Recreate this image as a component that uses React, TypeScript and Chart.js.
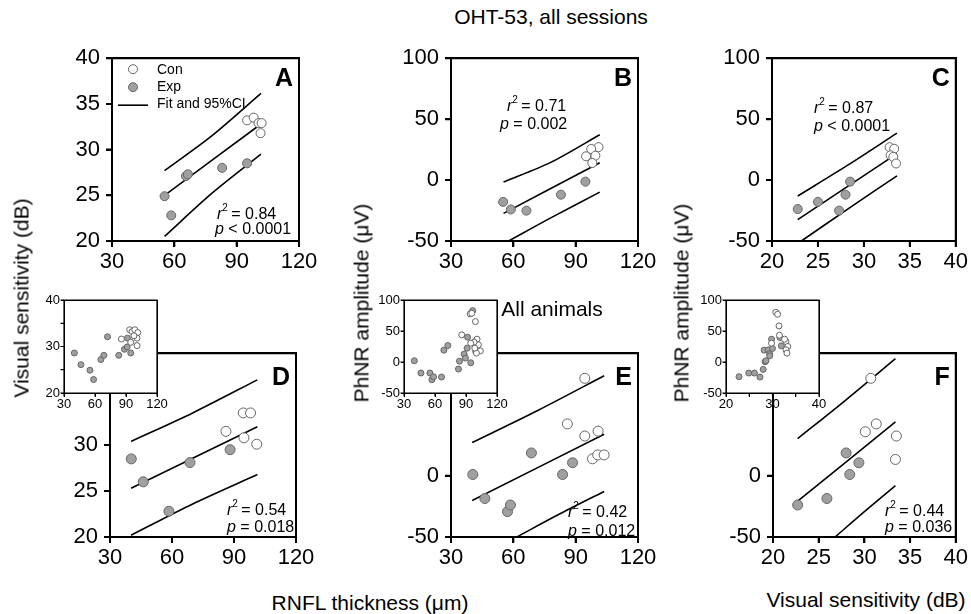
import React, { useEffect, useRef, useState } from 'react';
import { Chart, registerables } from 'chart.js';
Chart.register(...registerables);

const FONT = '"Liberation Sans", Arial, Helvetica, sans-serif';
const CON_FILL = '#ffffff';
const CON_EDGE = '#666666';
const EXP_FILL = '#a0a0a0';
const EXP_EDGE = '#666666';

// ---------- Panel A : RNFL thickness vs visual sensitivity ----------
const aConX = [95, 98.2, 100.5, 102, 101.5];
const aConY = [33.2, 33.5, 32.9, 32.9, 31.8];
const aExpX = [55.3, 58.5, 65.6, 66.5, 83, 95];
const aExpY = [24.9, 22.8, 27.1, 27.3, 28.0, 28.5];
const aFitX = [55.3, 101.7];
const aFitY = [25.0, 32.8];
const aCiX = [55.3, 78, 101.7];
const aCiUpY = [27.7, 31.5, 36.15];
const aCiLoY = [20.5, 25.2, 29.5];

// ---------- Panel B : RNFL thickness vs PhNR ----------
const bConX = [101, 97.5, 95, 99.5, 98];
const bConY = [27, 25.5, 19.5, 20, 14];
const bExpX = [55.1, 58.8, 66.3, 82.9, 94.7];
const bExpY = [-17.9, -24.1, -25.1, -12, -1.3];
const bFitX = [55.3, 101.6];
const bFitY = [-27.3, 14.2];
const bCiUpX = [55.3, 78, 101.6];
const bCiUpY = [-1.6, 14.5, 37.2];
const bCiLoX = [57.7, 78, 101.6];
const bCiLoY = [-50, -31, -9.9];

// ---------- Panel C : visual sensitivity vs PhNR ----------
const cConX = [32.8, 33.3, 32.9, 33.2, 33.5];
const cConY = [27, 25.7, 20.3, 19, 13.6];
const cExpX = [22.8, 25, 27.3, 28, 28.5];
const cExpY = [-23.8, -17.9, -25.1, -12, -1.3];
const cFitX = [22.8, 33.6];
const cFitY = [-32.4, 21.7];
const cCiUpX = [22.8, 28.2, 33.6];
const cCiUpY = [-13.1, 12, 38.5];
const cCiLoX = [23.2, 28.4, 33.6];
const cCiLoY = [-50, -23, 3.5];

// ---------- Panel D ----------
const dConX = [94.5, 98, 86.1, 94.8, 101];
const dConY = [33.5, 33.5, 31.5, 30.8, 30.1];
const dExpX = [40.3, 46.1, 58.5, 68.7, 88.1];
const dExpY = [28.5, 26, 22.8, 28.1, 29.5];
const dFitX = [40.2, 101.3];
const dFitY = [25.3, 32];
const dCiX = [40.2, 70, 101.3];
const dCiUpY = [30.4, 33.5, 37.1];
const dCiLoY = [20.2, 23.6, 26.8];

// ---------- Panel E ----------
const eConX = [94.4, 86, 94.4, 100.8, 98.1, 100.6, 103.7];
const eConY = [79.5, 42.3, 32.4, 36.4, 13.8, 17, 17];
const eExpX = [40.5, 46.3, 57.2, 58.6, 68.7, 83.7, 88.5];
const eExpY = [1, -18.6, -29.3, -23.9, 18.6, 1, 10.6];
const eFitX = [40.2, 103.7];
const eFitY = [-20.2, 33.8];
const eCiUpX = [40.2, 72, 103.7];
const eCiUpY = [27.1, 53.5, 81.6];
const eCiLoX = [61.6, 82, 103.7];
const eCiLoY = [-50, -31.5, -12.8];

// ---------- Panel F ----------
const fConX = [30.7, 31.3, 30.1, 33.5, 33.4];
const fConY = [79.5, 42.3, 35.9, 32.4, 13.3];
const fExpX = [22.7, 25.9, 28.0, 28.4, 29.4];
const fExpY = [-23.9, -18.6, 18.6, 1, 10.6];
const fFitX = [22.7, 33.4];
const fFitY = [-20.7, 43.9];
const fCiUpX = [22.7, 28, 33.4];
const fCiUpY = [30.3, 62, 95.5];
const fCiLoX = [26.8, 30, 33.4];
const fCiLoY = [-50, -29.3, -8];

// ---------- Insets (all animals) ----------
const diExpX = [40, 46.4, 55.1, 58.6, 65.7, 68.6, 72.1, 83, 88.5, 91.4, 91.1, 94.6];
const diExpY = [28.6, 26.1, 24.9, 22.9, 27.2, 28.1, 32.1, 28.1, 29.4, 31.8, 29.9, 28.6];
const diConX = [85.6, 93.6, 95.9, 98.5, 101.4, 100.7, 94.6, 100.7, 97.7];
const diConY = [31.6, 33.6, 33.2, 33.6, 33.0, 31.8, 30.9, 30.2, 32.3];

const eiExpX = [40, 46.4, 55.1, 57, 58.6, 66.3, 68.6, 72.4, 82.7, 83.7, 88.2, 89.5, 91.5, 91.1, 94.6, 99.4, 96.5];
const eiExpY = [2, -17.8, -17.8, -28.6, -23.8, -24.3, 19.1, 26.6, -11.4, 1.4, 12.7, 6.3, 40, 22.3, -1.2, 17, 82.9];
const eiConX = [85.9, 94, 95.6, 99.1, 100.7, 102, 103.9, 100.1, 97.8, 94.6, 98.5];
const eiConY = [43.8, 77.5, 78.6, 65.2, 36.8, 27.7, 18, 14.3, 32, 30.4, 22.3];

const fiExpX = [22.8, 24.9, 26.1, 27.3, 28, 28.4, 28.6, 28.2, 29.1, 29.4, 30, 29.8, 31.6, 31.9, 29.4];
const fiExpY = [-23.7, -17.8, -17.8, -24.3, -11.9, 0.4, 2, 19.1, 19.6, 13.2, 21.8, 36.8, 39.5, 26.1, 10];
const fiConX = [30.7, 31.1, 31.4, 31.5, 32.9, 33.3, 32.9, 33.1, 32.6, 29.8];
const fiConY = [80.2, 77, 58.2, 43.2, 33, 25, 19.7, 14.3, 36.8, 30.4];

// ---------- ticks ----------
const rnflTicks = [30, 60, 90, 120];
const vsTicks = [20, 25, 30, 35, 40];
const vsLabelTicks = [20, 30, 40];
const phnrTicks = [-50, 0, 50, 100];
const phnrLowTicks = [-50, 0];
const vsLowTicks = [20, 25, 30];

type XY = [number[], number[]];
type Stat = { rx: number; px: number; ry: number; py: number; r: string; pOp: string; p: string };
type Margins = { l: number; t: number; r: number; b: number };
type Spec = {
  rect: [number, number, number, number];
  inset: boolean;
  m: Margins;
  xr: [number, number];
  yr: [number, number];
  xTicks: number[];
  xLabels: number[];
  yTicks: number[];
  yLabels: number[];
  con: XY;
  exp: XY;
  lines: XY[];
  pr: number;
  letter?: string;
  letterDy?: number;
  stat?: Stat;
  legend?: boolean;
};

const MAIN_M: Margins = { l: 72, t: 16, r: 26, b: 36 };
const EDGE_M: Margins = { l: 72, t: 16, r: 10, b: 36 };
const INSET_M: Margins = { l: 36, t: 10, r: 14, b: 20 };

const specs: Spec[] = [
  {
    rect: [112, 54, 187, 187], inset: false, m: MAIN_M, xr: [30, 120], yr: [20, 40],
    xTicks: rnflTicks, xLabels: rnflTicks, yTicks: vsTicks, yLabels: vsTicks,
    con: [aConX, aConY], exp: [aExpX, aExpY],
    lines: [[aFitX, aFitY], [aCiX, aCiUpY], [aCiX, aCiLoY]], pr: 4.5,
    letter: 'A', letterDy: 21, legend: true,
    stat: { rx: 105, px: 103, ry: 156, py: 171, r: ' = 0.84', pOp: ' < ', p: '0.0001' },
  },
  {
    rect: [451, 54, 187, 187], inset: false, m: MAIN_M, xr: [30, 120], yr: [-50, 100],
    xTicks: rnflTicks, xLabels: rnflTicks, yTicks: phnrTicks, yLabels: phnrTicks,
    con: [bConX, bConY], exp: [bExpX, bExpY],
    lines: [[bFitX, bFitY], [bCiUpX, bCiUpY], [bCiLoX, bCiLoY]], pr: 4.5,
    letter: 'B', letterDy: 21,
    stat: { rx: 56, px: 49, ry: 48, py: 66, r: ' = 0.71', pOp: ' = ', p: '0.002' },
  },
  {
    rect: [772, 54, 189, 187], inset: false, m: EDGE_M, xr: [20, 40], yr: [-50, 100],
    xTicks: vsTicks, xLabels: vsTicks, yTicks: phnrTicks, yLabels: phnrTicks,
    con: [cConX, cConY], exp: [cExpX, cExpY],
    lines: [[cFitX, cFitY], [cCiUpX, cCiUpY], [cCiLoX, cCiLoY]], pr: 4.5,
    letter: 'C', letterDy: 21,
    stat: { rx: 42, px: 42, ry: 50, py: 68, r: ' = 0.87', pOp: ' < ', p: '0.0001' },
  },
  {
    rect: [110, 349, 186, 188], inset: false, m: MAIN_M, xr: [30, 120], yr: [20, 40],
    xTicks: rnflTicks, xLabels: rnflTicks, yTicks: vsLowTicks, yLabels: vsLowTicks,
    con: [dConX, dConY], exp: [dExpX, dExpY],
    lines: [[dFitX, dFitY], [dCiX, dCiUpY], [dCiX, dCiLoY]], pr: 5,
    letter: 'D', letterDy: 25,
    stat: { rx: 117, px: 117, ry: 157, py: 174, r: ' = 0.54', pOp: ' = ', p: '0.018' },
  },
  {
    rect: [451, 349, 187, 188], inset: false, m: MAIN_M, xr: [30, 120], yr: [-50, 100],
    xTicks: rnflTicks, xLabels: rnflTicks, yTicks: phnrLowTicks, yLabels: phnrLowTicks,
    con: [eConX, eConY], exp: [eExpX, eExpY],
    lines: [[eFitX, eFitY], [eCiUpX, eCiUpY], [eCiLoX, eCiLoY]], pr: 5,
    letter: 'E', letterDy: 25,
    stat: { rx: 117, px: 117, ry: 159, py: 178, r: ' = 0.42', pOp: ' = ', p: '0.012' },
  },
  {
    rect: [773, 349, 188, 188], inset: false, m: EDGE_M, xr: [20, 40], yr: [-50, 100],
    xTicks: vsTicks, xLabels: vsTicks, yTicks: phnrLowTicks, yLabels: phnrLowTicks,
    con: [fConX, fConY], exp: [fExpX, fExpY],
    lines: [[fFitX, fFitY], [fCiUpX, fCiUpY], [fCiLoX, fCiLoY]], pr: 5,
    letter: 'F', letterDy: 25,
    stat: { rx: 112, px: 112, ry: 158, py: 174, r: ' = 0.44', pOp: ' = ', p: '0.036' },
  },
  {
    rect: [64, 300, 93, 93], inset: true, m: INSET_M, xr: [30, 120], yr: [20, 40],
    xTicks: rnflTicks, xLabels: rnflTicks, yTicks: vsTicks, yLabels: vsLabelTicks,
    con: [diConX, diConY], exp: [diExpX, diExpY], lines: [], pr: 3,
  },
  {
    rect: [404, 300, 93, 93], inset: true, m: INSET_M, xr: [30, 120], yr: [-50, 100],
    xTicks: rnflTicks, xLabels: rnflTicks, yTicks: phnrTicks, yLabels: phnrTicks,
    con: [eiConX, eiConY], exp: [eiExpX, eiExpY], lines: [], pr: 3,
  },
  {
    rect: [726, 300, 93, 93], inset: true, m: INSET_M, xr: [20, 40], yr: [-50, 100],
    xTicks: vsTicks, xLabels: vsLabelTicks, yTicks: phnrTicks, yLabels: phnrTicks,
    con: [fiConX, fiConY], exp: [fiExpX, fiExpY], lines: [], pr: 3,
  },
];

const pts = (xy: XY) => xy[0].map((x, i) => ({ x, y: xy[1][i] }));

type Geo = {
  L: number; T: number; R: number; B: number; lw: number; tl: number;
  xs: number[]; ys: number[];
};

function computeGeo(chart: any, spec: Spec): Geo {
  const a = chart.chartArea;
  const lw = spec.inset ? 1 : 2;
  const tl = spec.inset ? 3 : 5;
  return {
    L: Math.round(a.left - lw / 2),
    T: Math.round(a.top - lw / 2),
    R: Math.round(a.right - lw / 2),
    B: Math.round(a.bottom - lw / 2),
    lw,
    tl,
    xs: spec.xTicks.map((v) => Math.round(chart.scales.x.getPixelForValue(v) - lw / 2)),
    ys: spec.yTicks.map((v) => Math.round(chart.scales.y.getPixelForValue(v) - lw / 2)),
  };
}

function drawStat(ctx: CanvasRenderingContext2D, x: number, y: number, sym: string, sup: string, rest: string) {
  ctx.textBaseline = 'middle';
  ctx.textAlign = 'left';
  ctx.fillStyle = '#000';
  ctx.font = `italic 16px ${FONT}`;
  ctx.fillText(sym, x, y);
  let cx = x + ctx.measureText(sym).width;
  if (sup) {
    ctx.font = `10px ${FONT}`;
    ctx.fillText(sup, cx, y - 6);
    cx += ctx.measureText(sup).width - 1;
  }
  ctx.font = `16px ${FONT}`;
  ctx.fillText(rest, cx, y);
}

function buildConfig(spec: Spec): any {
  const m = spec.m;
  const [, , w, h] = spec.rect;
  const tickFont = { family: FONT, size: spec.inset ? 13 : 22 };
  const tickLen = spec.inset ? 3 : 5;
  const frameW = spec.inset ? 1.2 : 2;
  const [x0, x1] = spec.xr;
  const [y0, y1] = spec.yr;
  const datasets: any[] = [];

  // axis box and outward tick marks as line datasets on the chart's own scales
  datasets.push({
    type: 'line',
    data: [{ x: x0, y: y0 }, { x: x1, y: y0 }, { x: x1, y: y1 }, { x: x0, y: y1 }, { x: x0, y: y0 }],
    borderColor: '#000', borderWidth: frameW, pointRadius: 0, tension: 0, fill: false,
    clip: false, order: 5, borderJoinStyle: 'miter',
  });
  const dy = ((tickLen + frameW / 2) * (y1 - y0)) / h;
  const dx = ((tickLen + frameW / 2) * (x1 - x0)) / w;
  const tickPts: any[] = [];
  spec.xTicks.forEach((v) => {
    tickPts.push({ x: v, y: y0 }, { x: v, y: y0 - dy }, { x: v, y: NaN });
  });
  const yTickPts: any[] = [];
  spec.yTicks.forEach((v) => {
    yTickPts.push({ x: x0, y: v }, { x: x0 - dx, y: v }, { x: NaN, y: v });
  });
  datasets.push({
    type: 'line', data: tickPts, borderColor: '#000', borderWidth: frameW, pointRadius: 0,
    tension: 0, fill: false, clip: false, spanGaps: false, order: 5,
  });
  datasets.push({
    type: 'line', data: yTickPts, borderColor: '#000', borderWidth: frameW, pointRadius: 0,
    tension: 0, fill: false, clip: false, spanGaps: false, order: 5,
  });

  spec.lines.forEach((l) => {
    datasets.push({
      type: 'line', data: pts(l), borderColor: '#000', borderWidth: 1.6,
      pointRadius: 0, showLine: true, tension: 0.3, fill: false, order: 2,
    });
  });
  datasets.push({
    type: 'scatter', data: pts(spec.exp), pointRadius: spec.pr, pointBackgroundColor: EXP_FILL,
    pointBorderColor: EXP_EDGE, pointBorderWidth: 1, order: 1,
  });
  datasets.push({
    type: 'scatter', data: pts(spec.con), pointRadius: spec.pr, pointBackgroundColor: CON_FILL,
    pointBorderColor: CON_EDGE, pointBorderWidth: 1, order: 0,
  });

  const framePlugin = {
    id: 'panelFrame',
    beforeDatasetsDraw(chart: any) {
      if (!spec.inset) return;
      const a = chart.chartArea;
      const ctx = chart.ctx;
      ctx.save();
      ctx.fillStyle = '#fff';
      ctx.fillRect(a.left, a.top, a.right - a.left, a.bottom - a.top);
      ctx.restore();
    },
    afterDraw(chart: any) {
      const a = chart.chartArea;
      const ctx: CanvasRenderingContext2D = chart.ctx;
      const g = computeGeo(chart, spec);
      ctx.save();
      ctx.fillStyle = '#000';
      ctx.fillRect(g.L, g.T, g.R - g.L + g.lw, g.lw);
      ctx.fillRect(g.L, g.B, g.R - g.L + g.lw, g.lw);
      ctx.fillRect(g.L, g.T, g.lw, g.B - g.T + g.lw);
      ctx.fillRect(g.R, g.T, g.lw, g.B - g.T + g.lw);
      g.xs.forEach((px) => ctx.fillRect(px, g.B + g.lw, g.lw, g.tl));
      g.ys.forEach((py) => ctx.fillRect(g.L - g.tl, py, g.tl, g.lw));
      if (spec.letter) {
        ctx.font = `bold 25px ${FONT}`;
        ctx.fillStyle = '#000';
        ctx.textAlign = 'right';
        ctx.textBaseline = 'middle';
        ctx.fillText(spec.letter, a.right - 6, a.top + (spec.letterDy || 21));
      }
      if (spec.stat) {
        const s = spec.stat;
        drawStat(ctx, a.left + s.rx, a.top + s.ry, 'r', '2', s.r);
        drawStat(ctx, a.left + s.px, a.top + s.py, 'p', '', s.pOp + s.p);
      }
      if (spec.legend) {
        ctx.lineWidth = 1;
        ctx.strokeStyle = CON_EDGE;
        ctx.fillStyle = CON_FILL;
        ctx.beginPath();
        ctx.arc(a.left + 21, a.top + 11, 4.5, 0, Math.PI * 2);
        ctx.fill();
        ctx.stroke();
        ctx.fillStyle = EXP_FILL;
        ctx.strokeStyle = EXP_EDGE;
        ctx.beginPath();
        ctx.arc(a.left + 21, a.top + 29, 4.5, 0, Math.PI * 2);
        ctx.fill();
        ctx.stroke();
        ctx.fillStyle = '#000';
        ctx.fillRect(a.left + 6, a.top + 46.2, 30, 1.6);
        ctx.font = `14px ${FONT}`;
        ctx.textAlign = 'left';
        ctx.textBaseline = 'middle';
        ctx.fillText('Con', a.left + 45, a.top + 12);
        ctx.fillText('Exp', a.left + 45, a.top + 29);
        ctx.fillText('Fit and 95%CI', a.left + 45, a.top + 46);
      }
      ctx.restore();
    },
  };

  const axisCommon = (ticks: number[], labels: number[], isX: boolean) => ({
    type: 'linear',
    min: isX ? x0 : y0,
    max: isX ? x1 : y1,
    afterBuildTicks: (s: any) => { s.ticks = ticks.map((v) => ({ value: v })); },
    afterFit: (s: any) => { if (isX) s.height = m.b; else s.width = m.l; },
    ticks: {
      font: tickFont, color: '#000', maxRotation: 0, autoSkip: false,
      padding: spec.inset ? 1 : (isX ? 3 : 7),
      callback: (v: number) => (labels.indexOf(v) >= 0 ? String(v) : ''),
    },
    grid: { drawOnChartArea: false, drawTicks: true, tickLength: tickLen, color: 'rgba(0,0,0,0)' },
    border: { display: false },
  });

  return {
    type: 'scatter',
    data: { datasets },
    options: {
      animation: false, responsive: false, maintainAspectRatio: false, devicePixelRatio: 1,
      layout: { padding: { top: m.t, right: m.r, left: 0, bottom: 0 } },
      plugins: { legend: { display: false }, tooltip: { enabled: false }, title: { display: false } },
      scales: {
        x: axisCommon(spec.xTicks, spec.xLabels, true),
        y: axisCommon(spec.yTicks, spec.yLabels, false),
      },
    },
    plugins: [framePlugin],
  };
}

function Panel({ spec }: { spec: Spec }) {
  const ref = useRef<HTMLCanvasElement>(null);
  const [geo, setGeo] = useState<Geo | null>(null);
  const m = spec.m;
  const [x, y, w, h] = spec.rect;
  const cw = w + m.l + m.r;
  const ch = h + m.t + m.b;
  const ox = x - m.l;
  const oy = y - m.t;
  useEffect(() => {
    const chart = new Chart(ref.current as HTMLCanvasElement, buildConfig(spec));
    setGeo(computeGeo(chart, spec));
    return () => chart.destroy();
  }, []);
  const bar = (k: string, l: number, t: number, bw: number, bh: number) => (
    <div key={k} style={{ position: 'absolute', left: ox + l, top: oy + t, width: bw, height: bh, background: '#000' }} />
  );
  return (
    <>
      <canvas
        ref={ref}
        width={cw}
        height={ch}
        style={{ position: 'absolute', left: ox, top: oy, width: cw, height: ch }}
      />
      {geo && (
        <>
          {bar('t', geo.L, geo.T, geo.R - geo.L + geo.lw, geo.lw)}
          {bar('b', geo.L, geo.B, geo.R - geo.L + geo.lw, geo.lw)}
          {bar('l', geo.L, geo.T, geo.lw, geo.B - geo.T + geo.lw)}
          {bar('r', geo.R, geo.T, geo.lw, geo.B - geo.T + geo.lw)}
          {geo.xs.map((px, i) => bar('x' + i, px, geo.B + geo.lw, geo.lw, geo.tl))}
          {geo.ys.map((py, i) => bar('y' + i, geo.L - geo.tl, py, geo.tl, geo.lw))}
        </>
      )}
    </>
  );
}

const htxt = (s: string, cx: number, cy: number) => (
  <div
    key={s + cx}
    style={{
      position: 'absolute', left: cx - 300, top: cy - 11, width: 600, height: 22, textAlign: 'center',
      whiteSpace: 'nowrap', font: `21px ${FONT}`, lineHeight: '22px', color: '#000',
    }}
  >
    {s}
  </div>
);

const vtxt = (s: string, cx: number, cy: number) => (
  <div
    key={s + cx}
    style={{
      position: 'absolute', left: cx, top: cy, whiteSpace: 'nowrap', font: `21px ${FONT}`, lineHeight: '1',
      color: '#000', transform: 'translate(-50%, -50%) rotate(-90deg)',
    }}
  >
    {s}
  </div>
);

export default function App() {
  return (
    <div style={{ position: 'absolute', left: 0, top: 0, width: 971, height: 614, background: '#fff', overflow: 'hidden' }}>
      {specs.map((s, i) => <Panel key={i} spec={s} />)}
      {htxt('OHT-53, all sessions', 551, 17)}
      {htxt('All animals', 552, 309)}
      {vtxt('Visual sensitivity (dB)', 21, 298)}
      {vtxt('PhNR amplitude (\u03bcV)', 361, 303)}
      {vtxt('PhNR amplitude (\u03bcV)', 681, 303)}
      {htxt('RNFL thickness (\u03bcm)', 370, 603)}
      {htxt('Visual sensitivity (dB)', 866, 600)}
    </div>
  );
}
